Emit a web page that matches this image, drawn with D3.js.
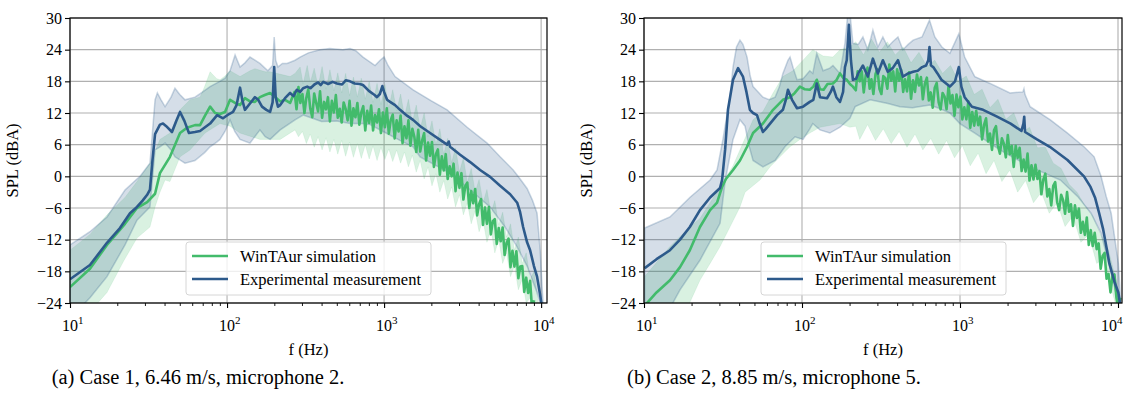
<!DOCTYPE html>
<html>
<head>
<meta charset="utf-8">
<script src="https://cdn.jsdelivr.net/npm/d3@7"></script>
<style>
  body { margin: 0; background: #fff; }
</style>
</head>
<body>
<svg id="chart" width="1125" height="404" font-family="Liberation Serif, Times New Roman, serif"></svg>
<script>
// axis ticks shared by both panels
const yTicks = [-24, -18, -12, -6, 0, 6, 12, 18, 24, 30];
const xMajor = [10, 100, 1000, 10000];
const xMinor = [20, 30, 40, 50, 60, 70, 80, 90, 200, 300, 400, 500, 600, 700, 800, 900,
                2000, 3000, 4000, 5000, 6000, 7000, 8000, 9000];
const seriesNames = ['WinTAur simulation', 'Experimental measurement'];
const captions = ['(a) Case 1, 6.46 m/s, microphone 2.', '(b) Case 2, 8.85 m/s, microphone 5.'];

// ---- panel (a): [frequency Hz, SPL dBA] ----
// simulation, smooth low-frequency part
const simLowA = [[10,-21],[13.4,-17.5],[17.2,-13],[22.4,-9],[26.7,-6],[31,-4.9],[34.8,-3.3],[37.4,0.6],[43.3,3.7],
  [50.2,8.2],[55.6,9.2],[62.5,9.7],[67.3,9.7],[72.4,11.5],[78,13.2],[83.9,12],[90,11.8],[97.1,12.2],[104.5,14.5],
  [112.5,13.9],[121,13.5],[130,14.8],[140,14.2],[150.6,14.1],[162,15],[174,15.4],[188,15.8],[203,15],[218,14.2],
  [234,14.5],[252,13.9]];
// simulation, noisy high-frequency part (frequencies and levels)
const fineFreqA = [269,277,285,293,302,311,320,329,339,349,359,369,380,391,403,415,427,439,452,465,
  479,493,507,522,537,553,569,586,603,620,638,657,676,696,716,737,759,781,804,827,
  851,876,902,928,955,983,1012,1041,1072,1103,1135,1168,1202,1237,1274,1311,1349,1388,1429,1471,
  1514,1558,1603,1650,1698,1748,1799,1851,1906,1961,2018,2077,2138,2200,2265,2331,2399,2469,2541,2615,
  2692,2770,2851,2934,3020,3108,3199,3292,3388,3487,3589,3694,3802,3913,4027,4145,4266,4390,4519,4651,
  4786,4926,5070,5218,5370,5527,5689,5855,6026,6202,6383,6569,6761,6958,7161,7371,7586,7807,8035,8270,
  8511,8760,9016];
const simFineA = [16.0,12.7,16.9,13.9,15.6,12.0,14.9,16.5,12.8,11.2,15.7,14.0,12.3,16.1,11.1,14.1,12.7,15.0,10.4,14.3,
  12.1,15.4,11.1,12.8,10.2,14.0,12.8,10.6,14.3,9.6,12.9,11.2,13.9,9.8,12.1,13.3,8.7,12.4,10.1,13.4,
  8.7,11.6,10.2,12.7,8.2,12.1,9.3,12.9,8.1,10.7,11.7,7.2,10.6,8.5,11.5,6.3,9.5,7.2,10.6,5.8,
  9.0,7.5,4.6,8.8,4.7,6.8,8.2,3.0,6.4,3.9,6.5,1.8,4.2,5.1,0.3,3.8,1.1,4.2,-0.5,1.9,
  0.0,2.4,-2.8,0.7,-2.2,0.6,-4.4,-1.8,-1.2,-6.0,-2.8,-5.1,-2.4,-7.4,-5.3,-4.3,-9.2,-5.9,-9.0,-5.8,
  -11.0,-8.5,-8.1,-12.8,-9.8,-12.3,-9.7,-14.9,-12.6,-11.8,-17.2,-14.1,-17.1,-14.2,-19.3,-17.1,-17.0,-21.9,-19.2,-22.1,
  -19.8,-25.3,-23.5];
const simLoA = [[10,-30],[17.2,-22],[22,-16],[26.7,-11.7],[32.3,-9.6],[34.8,-5.8],[37.4,-3],[40.3,-0.7],[43.3,-1],
  [50.2,3.7],[58.1,5],[72.4,8.2],[90.2,10],[104.5,9.5],[121,8.2],[162,7],[218,7],[271,8.8],[285,7.5],[302,8.5],
  [320,6.2],[339,8],[359,5.5],[380,7.5],[403,5],[427,7.3],[452,4.6],[479,7],[507,4.2],[537,6.8],[569,3.8],
  [603,6.5],[638,3.6],[676,6.2],[716,3.4],[759,6],[804,3.3],[851,5.8],[902,3],[955,5.5],[1012,3.2],[1072,5.2],
  [1135,2.8],[1202,5],[1274,2.5],[1349,4.6],[1429,1.8],[1514,4],[1603,0.8],[1698,3],[1799,-0.5],[1905,1.8],
  [2018,-1.8],[2138,0.5],[2265,-3],[2399,-0.8],[2541,-4.3],[2692,-2],[2851,-5.8],[3020,-3.5],[3199,-7.3],
  [3388,-5],[3589,-9],[3802,-6.5],[4027,-10.5],[4266,-8.3],[4519,-12.5],[4786,-10],[5070,-14.5],[5370,-12],
  [5689,-16.5],[6026,-14.5],[6383,-19],[6761,-17],[7161,-21.5],[7586,-19.5],[8035,-24],[8511,-23],[9016,-27]];
const simHiA = [[10,-14],[13.4,-11],[17.2,-7.3],[22.4,-4],[26.7,-1],[32.3,2.5],[37.4,7],[43.3,8.2],[50.2,12.6],
  [58.1,14.5],[67.3,15],[72,17],[78,19.8],[86,18.5],[90.2,18.3],[97,19],[104.5,20],[112,19.5],[121,18.9],
  [140,20],[150.6,20.4],[175,19.8],[188,19.8],[252,18.9],[271,19.5],[292,20.7],[305,17.5],[324,21],[339,17.8],
  [359,20.5],[380,17],[403,20.8],[427,16.5],[452,20.2],[479,16.2],[507,19.6],[537,15.8],[569,19.5],[603,15.3],
  [638,18.8],[676,15],[716,18.6],[759,14.6],[804,18],[851,14],[902,17.6],[955,13.6],[1012,17.4],[1072,13],
  [1135,16.4],[1202,12.4],[1274,15.6],[1349,11.3],[1429,14.6],[1514,10.2],[1603,13.5],[1698,9],[1799,12],
  [1905,7.5],[2018,10.5],[2138,6],[2265,9],[2399,4.2],[2541,7.2],[2692,2.6],[2851,5.4],[3020,0.8],[3199,3.5],
  [3388,-1.2],[3589,1.5],[3802,-3],[4027,-0.6],[4266,-5],[4519,-2.5],[4786,-7],[5070,-4.6],[5370,-9.2],
  [5689,-6.8],[6026,-11.5],[6383,-9],[6761,-14],[7161,-11.5],[7586,-16.5],[8035,-14.5],[8511,-19.5],
  [9016,-18],[9500,-23],[9860,-26]];
const expA = [[10,-19.5],[13.4,-16.8],[17.2,-12.6],[20.8,-9.8],[24.1,-7],[26.7,-5.8],[29,-4.6],[31,-3.5],
  [32.3,-2.5],[33.5,3],[34.8,8],[37.4,9.8],[39.1,10],[41,9.5],[44.6,8.4],[47.5,10.5],[50.2,12.2],[53.5,10.5],
  [57.2,8.2],[62.5,8.4],[67.3,8.6],[72.4,9.3],[78,10],[86.5,11.6],[94.3,11],[103,11.8],[109.2,12.2],[115,13.5],
  [121,16.8],[125,14.5],[130,12.6],[140,13.8],[150.6,15],[158,14.5],[167,13.2],[178,12.6],[188,12.2],[195,14],
  [199.6,20.7],[204,15],[211,13.2],[218,13.5],[234,14.8],[252,15.8],[265,15.2],[278,16.4],[292,16],[305,16.7],
  [324,17],[340,16.7],[360,17.4],[380,17.8],[395,17.3],[410,17.9],[440,17.5],[470,17.9],[501,17.6],[540,17.4],
  [570,18.2],[607,18],[650,17.6],[700,17.5],[734,17.3],[800,16.2],[870,15.4],[901,15],[940,15.6],[975,17.1],
  [1000,16],[1045,14.5],[1092,14.1],[1175,13.5],[1264,12.6],[1400,11.5],[1530,10.7],[1700,9.5],[1963,8.2],
  [2274,6.9],[2520,6],[2580,6.6],[2633,5.6],[3049,4.1],[3532,2.7],[4087,1.2],[4733,-0.1],[5480,-1.8],
  [6350,-3.4],[7040,-5],[7350,-6.8],[7680,-9.6],[8140,-12.5],[8510,-14],[9000,-17],[9420,-19],[9860,-22.5],
  [10150,-25]];
const expLoA = [[10,-27],[13.4,-23],[17.2,-19],[22.4,-13],[26.7,-8.3],[32.3,-5.8],[34.8,5],[37,5.5],[40.3,6.3],
  [44,5],[46.6,3.7],[54,2.5],[62.5,3],[72,4.5],[78,5.6],[86,6.5],[90.2,7],[97,8.5],[104.5,10.7],[112,8.5],
  [121,7],[140,6.3],[162,8.8],[175,7.5],[188,7],[218,8.8],[250,10],[271,10.7],[305,11.6],[350,11],[400,10.4],
  [501,10.5],[607,10],[734,10],[815,9.8],[1000,8.4],[1264,6.8],[1530,5.6],[1695,3.7],[2633,0.6],[3532,-2.6],
  [4733,-5.8],[5890,-9.6],[7040,-13.4],[8140,-17],[9420,-22],[9860,-24],[10150,-27]];
const expHiA = [[10,-13],[13.4,-10.5],[17.2,-7.7],[22.4,-2.6],[27.9,0],[32.3,2.5],[34.8,14.5],[36,15.8],[38,14.5],
  [40.3,13.2],[44,15],[46.6,16.7],[50,15.5],[54,14.5],[62.5,15],[70,16],[78,17],[90,18],[97.1,18.6],[104.5,20],
  [112.5,23],[121,20.7],[130,21.5],[140,22.6],[150.6,22],[162,21.4],[182,20],[195,21],[199.6,26.4],[204,22],
  [211,20.7],[225,21.4],[241,21.4],[271,22],[292,22.6],[330,23.4],[391,24],[450,24.2],[547,24],[607,24.2],
  [660,23.8],[734,22.6],[876,21],[944,22],[1000,22.6],[1060,21],[1175,18.9],[1530,16.4],[2000,14.3],
  [2520,12.6],[3380,9.3],[4530,6.3],[5480,3.7],[6640,1.2],[7350,-0.5],[8140,-2.3],[8800,-4.5],[9420,-7],
  [9860,-14],[10150,-21],[10400,-26]];

// ---- panel (b) ----
const simLowB = [[10.1,-24.5],[12,-22],[14.6,-19.7],[16.9,-17.2],[19.5,-14],[22.6,-9.6],[26.2,-6.4],[29,-5],
  [31.2,-2],[33,-0.5],[36.6,1.2],[40.5,3],[44.9,5.6],[49,8.2],[56.6,10],[65.6,12.6],[75.7,14.5],[84,15],[90,15.8],
  [97,17],[104,16.5],[112,16.4],[118,17],[124,18.3],[130,16.5],[137,16.4],[145,17.5],[157,17.6],[165,18.2],
  [174,19.5],[183,18.6],[192,18.3],[201,17.5],[210,17]];
const fineFreqB = [219,225,232,239,246,253,260,268,275,283,292,300,309,318,327,337,347,357,367,378,
  389,400,412,424,437,449,462,476,490,504,519,534,550,566,582,599,617,635,653,672,
  692,712,733,754,776,799,822,846,871,896,923,950,977,1006,1035,1065,1097,1129,1161,1195,
  1230,1266,1303,1341,1380,1421,1462,1505,1549,1594,1641,1689,1738,1789,1841,1895,1950,2007,2065,2126,
  2188,2252,2318,2385,2455,2527,2600,2676,2754,2835,2918,3003,3091,3181,3274,3369,3468,3569,3673,3780,
  3891,4004,4121,4242,4366,4493,4624,4759,4898,5041,5189,5340,5496,5657,5822,5992,6167,6347,6532,6723,
  6919,7121,7329,7543,7764,7990,8224,8464,8711,8965,9227,9497,9774,10059,10353];
const simFineB = [16.3,19.9,18.0,19.9,15.9,19.1,20.6,16.6,18.4,15.6,19.4,20.3,16.6,15.6,19.0,18.6,16.6,21.2,18.1,19.9,
  16.1,20.3,18.1,20.2,16.0,18.4,16.1,19.7,14.7,18.2,16.0,19.3,17.2,18.8,14.6,17.5,18.7,14.4,15.9,13.0,
  16.8,17.7,14.0,12.7,15.8,15.1,12.7,17.1,13.8,15.4,11.5,15.5,13.1,15.1,10.8,13.1,10.8,14.2,9.2,12.2,
  9.6,12.4,9.7,11.3,7.0,9.8,11.0,6.6,8.1,5.0,8.7,9.5,5.8,4.3,7.2,6.2,3.6,7.8,4.2,5.8,
  1.8,5.8,3.5,5.4,1.0,3.2,0.9,4.3,-0.8,2.1,-0.6,2.2,-0.5,1.0,-3.4,-0.6,0.5,-3.8,-2.4,-5.5,
  -1.8,-1.1,-4.9,-6.4,-3.5,-4.5,-7.1,-3.0,-6.7,-5.3,-9.4,-5.5,-7.9,-6.1,-10.7,-8.6,-11.1,-7.8,-13.0,-10.2,
  -13.2,-10.7,-13.8,-12.7,-17.5,-15.1,-14.5,-19.4,-18.5,-22.0,-18.9,-18.6,-23.0,-25.2,-23.0];
const simLoB = [[10.1,-32],[16.9,-28],[22.6,-19.7],[26.2,-16.5],[30.3,-13.3],[35,-9.6],[40.5,-5.8],[43.6,-3],
  [54.2,-0.7],[62.8,1.8],[72.5,3.7],[84,5.6],[97,7],[112,8.2],[130,9.3],[174,10],[201,9.3],[219,9.5],[232,7],
  [260,9.8],[292,6.8],[327,9],[367,6.2],[412,8.5],[462,5.5],[519,8],[582,5],[653,7.2],[733,4.2],[822,6.8],
  [923,3.5],[1035,5.8],[1161,2],[1303,4.4],[1462,0.5],[1641,3],[1841,-1],[2065,1.2],[2317,-3],[2600,-0.8],
  [2917,-5],[3273,-3],[3673,-7],[4121,-5],[4624,-9.5],[5188,-7.5],[5821,-12.5],[6531,-11],[7328,-16.5],
  [8222,-15.5],[9226,-22],[10000,-26]];
const simHiB = [[10.1,-19],[14.6,-13.3],[19.5,-9.6],[22.6,-8],[26.2,-5],[30.3,-2],[36.6,2],[42.3,6.3],[49,10.7],
  [56.6,12.3],[65.6,15.8],[75.7,18.9],[87.7,20],[101.5,22],[117,24],[136,22.8],[157,22.6],[174,24],[201,24.5],
  [219,25.5],[245,23],[275,26],[309,23.5],[347,25.5],[389,23],[437,24.5],[490,21.5],[550,23.5],[617,20.8],
  [692,22],[776,19.5],[871,21],[977,18],[1096,19],[1230,15.5],[1380,16.5],[1549,13],[1738,14.6],[1950,10.8],
  [2188,12],[2455,8.2],[2754,9.3],[3090,5.4],[3467,5.5],[3890,2.5],[4365,1.5],[4898,-1.5],[5495,-3],
  [6166,-5.5],[6918,-7.5],[7762,-11],[8710,-14],[9772,-20],[10351,-27]];
const expB = [[10.1,-17.4],[12,-15.7],[14.6,-14],[16.9,-12],[19.5,-9.6],[22.6,-6.4],[26.2,-4],[30.3,-2.2],
  [31.2,-0.7],[32.6,5],[34,12.6],[36.6,18.3],[39.4,20.5],[42.3,18.9],[44.5,16],[46.8,12.6],[49,12],[51.9,11.6],
  [54,10],[56.6,8.4],[59,9],[62.8,10],[69.5,11.6],[75.7,12.6],[79,14.5],[81.5,16.4],[86.5,14.5],[93,12.9],
  [101.5,13.2],[112,14.1],[118,14.5],[124,17.6],[130,15],[144,14.8],[152,16],[157,17],[165,15],[174,14.1],
  [182,16],[187,20.7],[192,22],[198,28.7],[204,22],[210,18.3],[220,18.5],[227,19.5],[243,21],[261,18.9],
  [281,22.3],[302,19.5],[325,22],[349,19.8],[375,20.5],[405,22],[435,18.9],[470,19.5],[505,19.8],[540,20],
  [576,20.7],[610,21],[630,22],[641,24.5],[655,21],[677,20.7],[720,19.5],[763,18.3],[863,17],[930,18],
  [983,20.7],[1020,17],[1070,15],[1190,13.2],[1400,12.6],[1716,11.3],[2090,10],[2450,8.6],[2520,10],
  [2550,11.3],[2580,8.4],[3070,7],[3700,5.6],[4790,3.1],[6090,0],[6700,-2],[7150,-4],[7600,-7],[8050,-10],
  [8820,-16.5],[9500,-20],[10050,-22],[10400,-25]];
const expLoB = [[10.1,-30],[14,-26],[16.9,-21.5],[22.6,-15.9],[30.3,-8.9],[32.6,-1],[36.6,7],[40.5,10.7],
  [43.6,9.5],[46,6],[49,3],[56.6,1.8],[67.6,3],[78,5.6],[90.3,7.5],[101.5,7],[112,9],[117,10],[130,8.8],
  [150,8.2],[174,9.3],[201,11],[217,13.2],[270,14.5],[350,13.8],[417,13.2],[500,13],[644,13.5],[750,12.8],
  [863,12],[998,10],[1240,8.2],[1790,5],[2780,1.8],[4320,-0.7],[5550,-3.8],[6750,-7],[7810,-10.8],
  [9050,-18.3],[10050,-24],[10500,-30]];
const expHiB = [[10.1,-9.8],[14.6,-7.7],[19.5,-4],[26.2,-0.7],[29,1.2],[31.6,7],[35,15],[36.6,20.7],[38.5,24.5],
  [40.5,25.8],[42.3,25],[44.9,22.6],[47,19],[49,17],[56.6,15],[62,14.5],[67.6,15],[72,17],[75.7,19.5],[81.5,22],
  [84,22.6],[88,20.5],[93,18.3],[101.5,18.5],[112,20],[117,19.5],[124,23.3],[136,20],[150,20.5],[157,21],
  [174,19.5],[187,25.2],[198,33],[210,25.2],[227,25],[243,26.4],[261,24],[281,27.7],[302,24.5],[325,26.4],
  [349,24.5],[375,25.5],[405,26.4],[435,24],[470,25],[505,25.8],[575,26.4],[641,29.6],[693,26.4],[768,24.5],
  [863,23.3],[983,27],[1070,22.6],[1240,18.9],[1550,17.6],[2070,15.8],[2500,16],[2540,16.6],[2580,15.5],
  [2780,13.2],[3730,10.7],[4790,8.2],[6090,5.6],[7060,3.7],[7810,0],[8420,-3.8],[9050,-7],[10050,-16.5],
  [10500,-26]];

// join the two simulation parts into [f, dB] pairs
const simA = simLowA.concat( fineFreqA.map( (f, i) => [f, simFineA[i]] ) );
const simB = simLowB.concat( fineFreqB.map( (f, i) => [f, simFineB[i]] ) );

const colors = { sim: '#42bb6b', exp: '#2d5a8b' };

let svg = d3.select('#chart');

/** Draws one subfigure: bands, lines, axes, legend and caption. */
function createPanel( svg, id, left, top, width, height, fMax, d, caption, legendX, captionX ) {

    let group = svg.append('g').attr('id', id);

    let x = d3.scaleLog().domain( [10, fMax] ).range( [left, left + width] );
    let y = d3.scaleLinear().domain( [-24, 30] ).range( [top + height, top] );

    group.append('clipPath').attr('id', id + '-clip')
        .append('rect')
        .attr('x', left).attr('y', top)
        .attr('width', width).attr('height', height);

    // grid lines
    let grid = group.append('g').attr('class', 'grid')
        .attr('stroke', '#b0b0b0').attr('stroke-width', 1.1);
    grid.selectAll('.gy').data( yTicks ).join('line')
        .attr('x1', left).attr('x2', left + width)
        .attr('y1', v => y(v)).attr('y2', v => y(v));
    grid.selectAll('.gx').data( xMajor ).join('line')
        .attr('x1', v => x(v)).attr('x2', v => x(v))
        .attr('y1', top).attr('y2', top + height);

    let line = d3.line().x(p => x(p[0])).y(p => y(p[1]));
    // closed polygon from upper edge and reversed lower edge
    let band = (hi, lo) => line( hi.concat( lo.slice().reverse() ) ) + 'Z';

    let plot = group.append('g').attr('clip-path', `url(#${id}-clip)`);

    plot.append('path')
        .attr('d', band( d.simHi, d.simLo ))
        .attr('fill', colors.sim).attr('fill-opacity', 0.2)
        .attr('stroke', colors.sim).attr('stroke-opacity', 0.1).attr('stroke-width', 1);
    plot.append('path')
        .attr('d', band( d.expHi, d.expLo ))
        .attr('fill', colors.exp).attr('fill-opacity', 0.2)
        .attr('stroke', colors.exp).attr('stroke-opacity', 0.25).attr('stroke-width', 1.5);

    plot.append('path')
        .attr('d', line( d.sim ))
        .attr('fill', 'none').attr('stroke', colors.sim)
        .attr('stroke-width', 2.6).attr('stroke-linejoin', 'round');
    plot.append('path')
        .attr('d', line( d.exp ))
        .attr('fill', 'none').attr('stroke', colors.exp)
        .attr('stroke-width', 2.6).attr('stroke-linejoin', 'round');

    // frame
    group.append('rect')
        .attr('x', left).attr('y', top)
        .attr('width', width).attr('height', height)
        .attr('fill', 'none').attr('stroke', '#000').attr('stroke-width', 1.2);

    // y axis
    let yAxis = group.append('g')
        .attr('transform', `translate(${left},0)`)
        .call( d3.axisLeft(y).tickValues( yTicks ).tickSize(5).tickPadding(3)
            .tickFormat( v => v < 0 ? '\u2212' + Math.abs(v) : v ) );
    yAxis.attr('font-family', null).attr('font-size', 16);
    yAxis.select('.domain').remove();
    yAxis.selectAll('text').attr('fill', '#000');
    yAxis.selectAll('line').attr('stroke-width', 1.1);

    // x axis, major ticks with 10^n labels and minor ticks
    let xAxis = group.append('g')
        .attr('transform', `translate(0,${top + height})`)
        .call( d3.axisBottom(x).tickValues( xMajor ).tickSize(5).tickFormat('') );
    xAxis.select('.domain').remove();
    xAxis.selectAll('line').attr('stroke-width', 1.1);
    let xMinorAxis = group.append('g')
        .attr('transform', `translate(0,${top + height})`)
        .call( d3.axisBottom(x).tickValues( xMinor.filter(v => v < fMax) ).tickSize(3).tickFormat('') );
    xMinorAxis.select('.domain').remove();
    xMinorAxis.selectAll('line').attr('stroke-width', 0.9);

    let labels = group.append('g').attr('font-size', 16);
    xMajor.forEach( function(v) {
        // keep the last label inside the picture
        let lx = Math.min( x(v) - 8, 1101 );
        let t = labels.append('text')
            .attr('x', lx).attr('y', top + height + 28);
        t.append('tspan').text('10');
        t.append('tspan').attr('dy', -7).attr('font-size', 11).text( Math.round(Math.log10(v)) );
    } );

    // axis titles
    group.append('text')
        .attr('x', left + width / 2).attr('y', top + height + 52)
        .attr('text-anchor', 'middle').attr('font-size', 16.5)
        .text('f (Hz)');
    group.append('text')
        .attr('transform', `translate(${left - 52},${top + height / 2}) rotate(-90)`)
        .attr('text-anchor', 'middle').attr('font-size', 16.5)
        .text('SPL (dBA)');

    // legend
    let legend = group.append('g').attr('transform', `translate(${legendX},${top + 224})`);
    legend.append('rect')
        .attr('width', 245).attr('height', 53).attr('rx', 3)
        .attr('fill', '#fff').attr('fill-opacity', 0.8)
        .attr('stroke', '#d6d6d6').attr('stroke-width', 1);
    [colors.sim, colors.exp].forEach( function(c, i) {
        legend.append('line')
            .attr('x1', 6).attr('x2', 42)
            .attr('y1', 14 + i * 23).attr('y2', 14 + i * 23)
            .attr('stroke', c).attr('stroke-width', 2.5);
        legend.append('text')
            .attr('x', 54).attr('y', 19.5 + i * 23)
            .attr('font-size', 16.5)
            .text( seriesNames[i] );
    } );

    // caption
    group.append('text')
        .attr('x', captionX).attr('y', 384)
        .attr('text-anchor', 'middle').attr('font-size', 20.5)
        .text( caption );
}

createPanel( svg, 'panelA', 70, 18, 477, 285, 10900,
    { sim: simA, simLo: simLoA, simHi: simHiA, exp: expA, expLo: expLoA, expHi: expHiA },
    captions[0], 186, 198 );
createPanel( svg, 'panelB', 644, 18, 478, 285, 10600,
    { sim: simB, simLo: simLoB, simHi: simHiB, exp: expB, expLo: expLoB, expHi: expHiB },
    captions[1], 761, 774 );
</script>
</body>
</html>
